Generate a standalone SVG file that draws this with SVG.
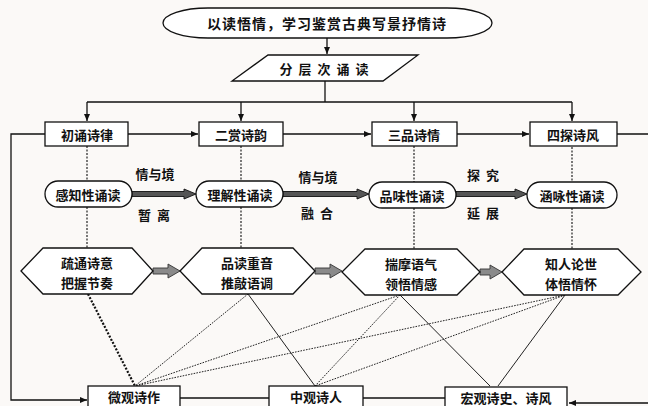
<svg xmlns="http://www.w3.org/2000/svg" width="648" height="406" viewBox="0 0 648 406">
<defs>
<marker id="ah" markerWidth="8" markerHeight="8" refX="7" refY="4" orient="auto" markerUnits="userSpaceOnUse"><path d="M0,1 L7,4 L0,7 Z" fill="#111"/></marker>
<style>
.bg{fill:#fbf9f7}
.box{fill:#fff;stroke:#111;stroke-width:1.3}
.t{font-family:"Noto Sans CJK SC","Noto Sans",sans-serif;font-size:13px;font-weight:bold;fill:#111;text-anchor:middle;dominant-baseline:central}
.ln{fill:none;stroke:#111;stroke-width:1.3}
.dv{fill:none;stroke:#222;stroke-width:1.2;stroke-dasharray:2 1.5}
.dt{fill:none;stroke:#222;stroke-width:1;stroke-dasharray:1.6 1.2}
.sl{fill:none;stroke:#222;stroke-width:1}
.hd{fill:none;stroke:#111;stroke-width:2.2;stroke-dasharray:2 1.6}
.ta{fill:#555;stroke:#111;stroke-width:0.9}
.ga{fill:#8a8a8a;stroke:#333;stroke-width:0.9}
</style>
</defs>
<rect class="bg" x="0" y="0" width="648" height="406"/>

<g id="connectors">
<path class="ln" d="M327,38 V54" marker-end="url(#ah)"/>
<path class="ln" d="M325,81 V102"/>
<path class="ln" d="M87,102 H572"/>
<path class="ln" d="M87,102 V121" marker-end="url(#ah)"/>
<path class="ln" d="M241,102 V121" marker-end="url(#ah)"/>
<path class="ln" d="M414,102 V121" marker-end="url(#ah)"/>
<path class="ln" d="M572,102 V121" marker-end="url(#ah)"/>
<path class="ln" d="M128,134 H198" marker-end="url(#ah)"/>
<path class="ln" d="M283,134 H371" marker-end="url(#ah)"/>
<path class="ln" d="M457,134 H529" marker-end="url(#ah)"/>
<path class="ln" d="M45,134 H11 V400 H87" marker-end="url(#ah)"/>
<path class="ln" d="M617,134 H652 V403 H569" marker-end="url(#ah)"/>
<path class="ln" d="M180,398 H269"/>
<path class="ln" d="M363,398 H445"/>
<path class="dv" d="M87,146 V181 M87,207 V248"/>
<path class="dv" d="M241,146 V181 M241,207 V248"/>
<path class="dv" d="M414,146 V182 M414,208 V249"/>
<path class="dv" d="M572,147 V182 M572,208 V249"/>
<polygon class="ta" points="132,191.5 184,191.5 184,189 196,194 184,199 184,196.5 132,196.5"/>
<polygon class="ta" points="283,191.5 357,191.5 357,189 369,194 357,199 357,196.5 283,196.5"/>
<polygon class="ta" points="456,191.5 515,191.5 515,189 527,194 515,199 515,196.5 456,196.5"/>
<polygon class="ga" points="153,268 168,268 168,264 180,271 168,278 168,274 153,274"/>
<polygon class="ga" points="315,268 330,268 330,264 342,271 330,278 330,274 315,274"/>
<polygon class="ga" points="480,269 490,269 490,265 502,272 490,279 490,275 480,275"/>
<path class="hd" d="M88,294 L135,386"/>
<path class="dt" d="M248,294 L135,386"/>
<path class="sl" d="M248,294 L315,386"/>
<path class="dt" d="M400,295 L135,386"/>
<path class="dt" d="M400,295 L315,386"/>
<path class="sl" d="M400,295 L490,386"/>
<path class="dt" d="M565,295 L135,386"/>
<path class="dt" d="M565,295 L315,386"/>
<path class="sl" d="M565,295 L498,386"/>
</g>

<g id="title"><rect class="box" x="163" y="8" width="329" height="30" rx="45" ry="15"/><text class="t" x="327" y="23" style="font-size:14px;letter-spacing:1px">以读悟情，学习鉴赏古典写景抒情诗</text></g>
<g id="layer"><polygon class="box" points="268,55 418,55 383,81 232,81"/><text class="t" x="327" y="68" style="letter-spacing:6px">分层次诵读</text></g>

<g id="n1"><rect class="box" x="45" y="122" width="83" height="24"/><text class="t" x="87" y="134">初诵诗律</text></g>
<g id="n2"><rect class="box" x="199" y="122" width="84" height="24"/><text class="t" x="241" y="134">二赏诗韵</text></g>
<g id="n3"><rect class="box" x="372" y="122" width="85" height="24"/><text class="t" x="414" y="134">三品诗情</text></g>
<g id="n4"><rect class="box" x="530" y="122" width="87" height="24"/><text class="t" x="573" y="134">四探诗风</text></g>

<g id="p1"><rect class="box" x="45" y="181" width="87" height="26" rx="13"/><text class="t" x="88" y="194">感知性诵读</text></g>
<g id="p2"><rect class="box" x="196" y="181" width="87" height="26" rx="13"/><text class="t" x="240" y="194">理解性诵读</text></g>
<g id="p3"><rect class="box" x="369" y="182" width="87" height="26" rx="13"/><text class="t" x="412" y="195">品味性诵读</text></g>
<g id="p4"><rect class="box" x="527" y="182" width="90" height="26" rx="13"/><text class="t" x="572" y="195">涵咏性诵读</text></g>

<g id="l1"><text class="t" x="155" y="173">情与境</text><text class="t" x="157" y="214" style="letter-spacing:6px">暂离</text></g>
<g id="l2"><text class="t" x="318" y="176">情与境</text><text class="t" x="320" y="212" style="letter-spacing:6px">融合</text></g>
<g id="l3"><text class="t" x="486" y="174" style="letter-spacing:6px">探究</text><text class="t" x="486" y="212" style="letter-spacing:6px">延展</text></g>

<g id="h1"><polygon class="box" points="21,271 43,248 132,248 153,271 132,294 43,294"/><text class="t" x="87" y="262">疏通诗意</text><text class="t" x="87" y="282">把握节奏</text></g>
<g id="h2"><polygon class="box" points="180,271 202,248 293,248 315,271 293,294 202,294"/><text class="t" x="247" y="262">品读重音</text><text class="t" x="247" y="282">推敲语调</text></g>
<g id="h3"><polygon class="box" points="342,272 365,249 457,249 480,272 457,295 365,295"/><text class="t" x="411" y="263">揣摩语气</text><text class="t" x="411" y="283">领悟情感</text></g>
<g id="h4"><polygon class="box" points="502,272 524,249 618,249 641,272 618,295 524,295"/><text class="t" x="571" y="263">知人论世</text><text class="t" x="571" y="283">体悟情怀</text></g>

<g id="b1"><rect class="box" x="88" y="386" width="92" height="28"/><text class="t" x="134" y="396">微观诗作</text></g>
<g id="b2"><rect class="box" x="269" y="386" width="94" height="28"/><text class="t" x="316" y="396">中观诗人</text></g>
<g id="b3"><rect class="box" x="445" y="387" width="122" height="28"/><text class="t" x="506" y="397">宏观诗史、诗风</text></g>
</svg>
